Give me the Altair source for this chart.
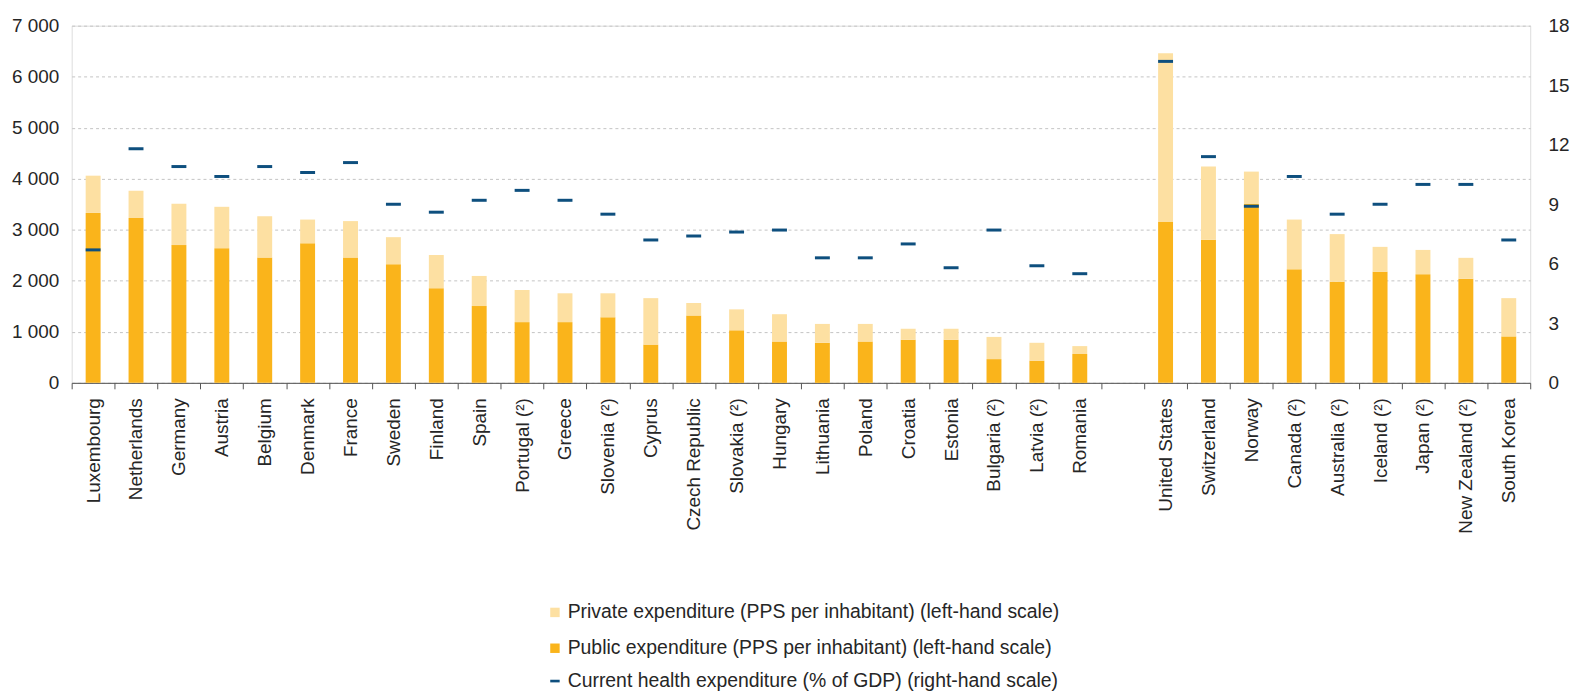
import altair as alt
import pandas as pd

countries = ["Luxembourg", "Netherlands", "Germany", "Austria", "Belgium", "Denmark", "France",
             "Sweden", "Finland", "Spain", "Portugal (²)", "Greece", "Slovenia (²)", "Cyprus",
             "Czech Republic", "Slovakia (²)", "Hungary", "Lithuania", "Poland", "Croatia",
             "Estonia", "Bulgaria (²)", "Latvia (²)", "Romania",
             "United States", "Switzerland", "Norway", "Canada (²)", "Australia (²)",
             "Iceland (²)", "Japan (²)", "New Zealand (²)", "South Korea"]
public = [3330, 3230, 2700, 2640, 2455, 2735, 2455, 2325, 1855, 1505, 1190, 1190, 1285, 750,
          1320, 1030, 810, 785, 810, 845, 845, 465, 435, 565,
          3150, 2805, 3505, 2225, 1980, 2175, 2130, 2040, 910]
private = [730, 535, 810, 810, 810, 465, 715, 530, 650, 590, 630, 565, 470, 910,
           245, 410, 535, 370, 345, 215, 215, 435, 350, 155,
           3310, 1435, 635, 975, 935, 490, 475, 410, 750]
gdp_share = [6.7, 11.8, 10.9, 10.4, 10.9, 10.6, 11.1, 9.0, 8.6, 9.2, 9.7, 9.2, 8.5, 7.2,
             7.4, 7.6, 7.7, 6.3, 6.3, 7.0, 5.8, 7.7, 5.9, 5.5,
             16.2, 11.4, 8.9, 10.4, 8.5, 9.0, 10.0, 10.0, 7.2]

s_priv = "Private expenditure (PPS per inhabitant) (left-hand scale)"
s_pub = "Public expenditure (PPS per inhabitant) (left-hand scale)"
s_cur = "Current health expenditure (% of GDP) (right-hand scale)"

domain_x = countries[:24] + [" "] + countries[24:]

rows = []
for c, pu, pr in zip(countries, public, private):
    rows.append({"country": c, "series": s_pub, "value": pu, "order": 0})
    rows.append({"country": c, "series": s_priv, "value": pr, "order": 1})
bars_df = pd.DataFrame(rows)
gdp_df = pd.DataFrame({"country": countries, "series": s_cur, "gdp": gdp_share})

FONT = "Liberation Sans"
TXT = "#262626"

xenc = alt.X("country:N", scale=alt.Scale(domain=domain_x, paddingInner=0, paddingOuter=0),
             sort=domain_x,
             axis=alt.Axis(title=None, labelAngle=-90, tickBand="extent", tickSize=6,
                           domainColor="#555555", tickColor="#555555", labelPadding=9,
                           labelFontSize=19, labelColor=TXT, labelFont=FONT))

leg_common = dict(title=None, orient="none", direction="vertical",
                  labelFontSize=19.5, labelFont=FONT, labelColor=TXT, labelLimit=0,
                  symbolSize=90, labelOffset=3, symbolStrokeWidth=0)

bars = alt.Chart(bars_df).mark_bar(size=15).encode(
    x=xenc,
    y=alt.Y("value:Q", stack="zero", scale=alt.Scale(domain=[0, 7000]),
            axis=alt.Axis(title=None, values=list(range(0, 7001, 1000)), ticks=False, domain=False,
                          gridDash=[3, 3], gridColor="#C4C4C4", labelPadding=13,
                          labelFontSize=19, labelColor=TXT, labelFont=FONT,
                          labelExpr="replace(format(datum.value, ','), ',', ' ')")),
    color=alt.Color("series:N", scale=alt.Scale(domain=[s_priv, s_pub], range=["#FDE0A2", "#FAB41B"]),
                    legend=alt.Legend(legendX=476, legendY=580, rowPadding=15,
                                      symbolType="square", **leg_common)),
    order=alt.Order("order:Q"),
)

ticks = alt.Chart(gdp_df).mark_tick(size=15, thickness=3, opacity=1).encode(
    x=alt.X("country:N", sort=domain_x),
    y=alt.Y("gdp:Q", scale=alt.Scale(domain=[0, 18]),
            axis=alt.Axis(title=None, orient="right", values=list(range(0, 19, 3)), ticks=False,
                          domain=False, grid=False, labelPadding=18,
                          labelFontSize=19, labelColor=TXT, labelFont=FONT)),
    fill=alt.Fill("series:N", scale=alt.Scale(domain=[s_cur], range=["#0E4F7E"]),
                  legend=alt.Legend(legendX=476, legendY=649,
                                    symbolType="M-1,-0.28H1V0.28H-1Z", **leg_common)),
)

chart = alt.layer(bars, ticks).resolve_scale(y="independent").properties(
    width=1466, height=359,
    autosize=alt.AutoSizeParams(type="none"),
    padding={"left": 64, "top": 16, "right": 41, "bottom": 312},
).configure_view(stroke=None).configure(background="white")

chart.save("out.html", embed_options={"renderer": "svg", "actions": False})
